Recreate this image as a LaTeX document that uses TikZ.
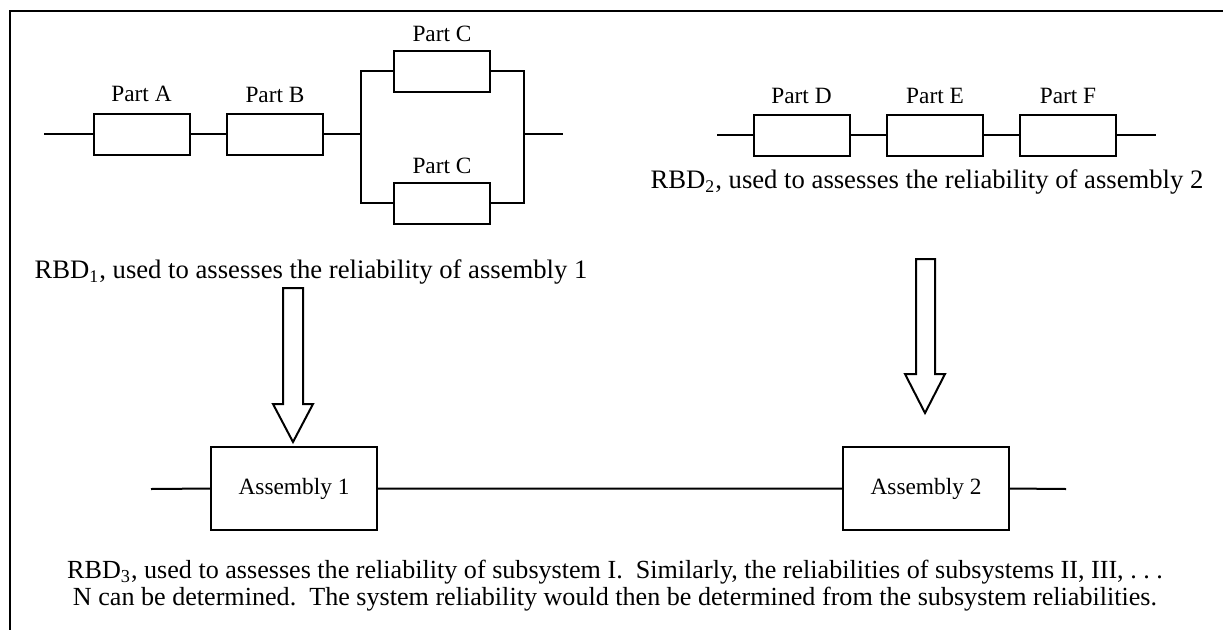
\documentclass[tikz,border=0pt]{standalone}
\usepackage{fontspec}
\setmainfont{Liberation Serif}
\usetikzlibrary{positioning}

\begin{document}
\begin{tikzpicture}[x=0.45pt,y=-0.45pt,line width=0.9pt,
  partbox/.style={rectangle,draw,minimum width=43.2pt,minimum height=18.45pt,inner sep=0pt,outer sep=0pt},
  asmbox/.style={rectangle,draw,minimum width=74.7pt,minimum height=37.35pt,inner sep=0pt,outer sep=0pt,font=\fontsize{10.5}{12}\selectfont},
  partlbl/.style={font=\fontsize{10.5}{12}\selectfont},
  caption/.style={font=\fontsize{12}{12.5}\selectfont,align=center}]
\useasboundingbox (0,0) rectangle (1223,630);
% frame
\draw (1223,11) -- (10,11) -- (10,630);

% RBD 1
\path (141.5,134) node(pa)[partbox]{}
(275,134) node(pb)[partbox]{}
(442,71) node(pc1)[partbox]{}
(442,203) node(pc2)[partbox]{};
\node(la)[partlbl,above=1.5pt of pa]{Part A};
\node(lb)[partlbl,above=1pt of pb]{Part B};
\node(lc1)[partlbl,above=0pt of pc1]{Part C};
\node(lc2)[partlbl,above=0pt of pc2]{Part C};
\coordinate (in1) at (44,134);
\coordinate (sl) at (361,134);
\coordinate (sr) at (524,134);
\coordinate (out1) at (563,134);
\draw (in1) -- (pa.west) (pa.east) -- (pb.west) (pb.east) -- (sl);
\draw (pc1.west) -| (sl) |- (pc2.west);
\draw (pc1.east) -| (sr) |- (pc2.east);
\draw (sr) -- (out1);
\node(cap1)[caption] at (311,272) {RBD\textsubscript{1}, used to assesses the reliability of assembly 1};

% RBD 2
\path (801.5,135) node(pd)[partbox]{}
(935,135) node(pe)[partbox]{}
(1068,135) node(pf)[partbox]{};
\node(ld)[partlbl,above=1pt of pd]{Part D};
\node(le)[partlbl,above=1pt of pe]{Part E};
\node(lf)[partlbl,above=1pt of pf]{Part F};
\coordinate (in2) at (717,135);
\coordinate (out2) at (1156,135);
\draw (in2) -- (pd.west) (pd.east) -- (pe.west) (pe.east) -- (pf.west) (pf.east) -- (out2);
\node(cap2)[caption] at (927,182) {RBD\textsubscript{2}, used to assesses the reliability of assembly 2};

% RBD 3
\path (294,488.5) node(a1)[asmbox]{Assembly 1}
(926,488.5) node(a2)[asmbox]{Assembly 2};
\coordinate (in3) at (151,489);
\coordinate (out3) at (1066,489);
\draw (in3) -- (a1.west) (a1.east) -- (a2.west) (a2.east) -- (out3);
\node(cap3)[caption,font=\fontsize{11.75}{12.2}\selectfont] at (615,586) {RBD\textsubscript{3}, used to assesses the reliability of subsystem I.\ \ Similarly, the reliabilities of subsystems II, III, .\ .\ .\\
N can be determined.\ \ The system reliability would then be determined from the subsystem reliabilities.};

% block arrows
\draw[line join=miter] (283,288) -- (303,288) -- (303,404) -- (313,404) -- (293,442) -- (273,404) -- (283,404) -- cycle;
\draw[line join=miter] (916,259) -- (935,259) -- (935,374) -- (945,374) -- (925,413) -- (905,374) -- (916,374) -- cycle;
\end{tikzpicture}
\end{document}
